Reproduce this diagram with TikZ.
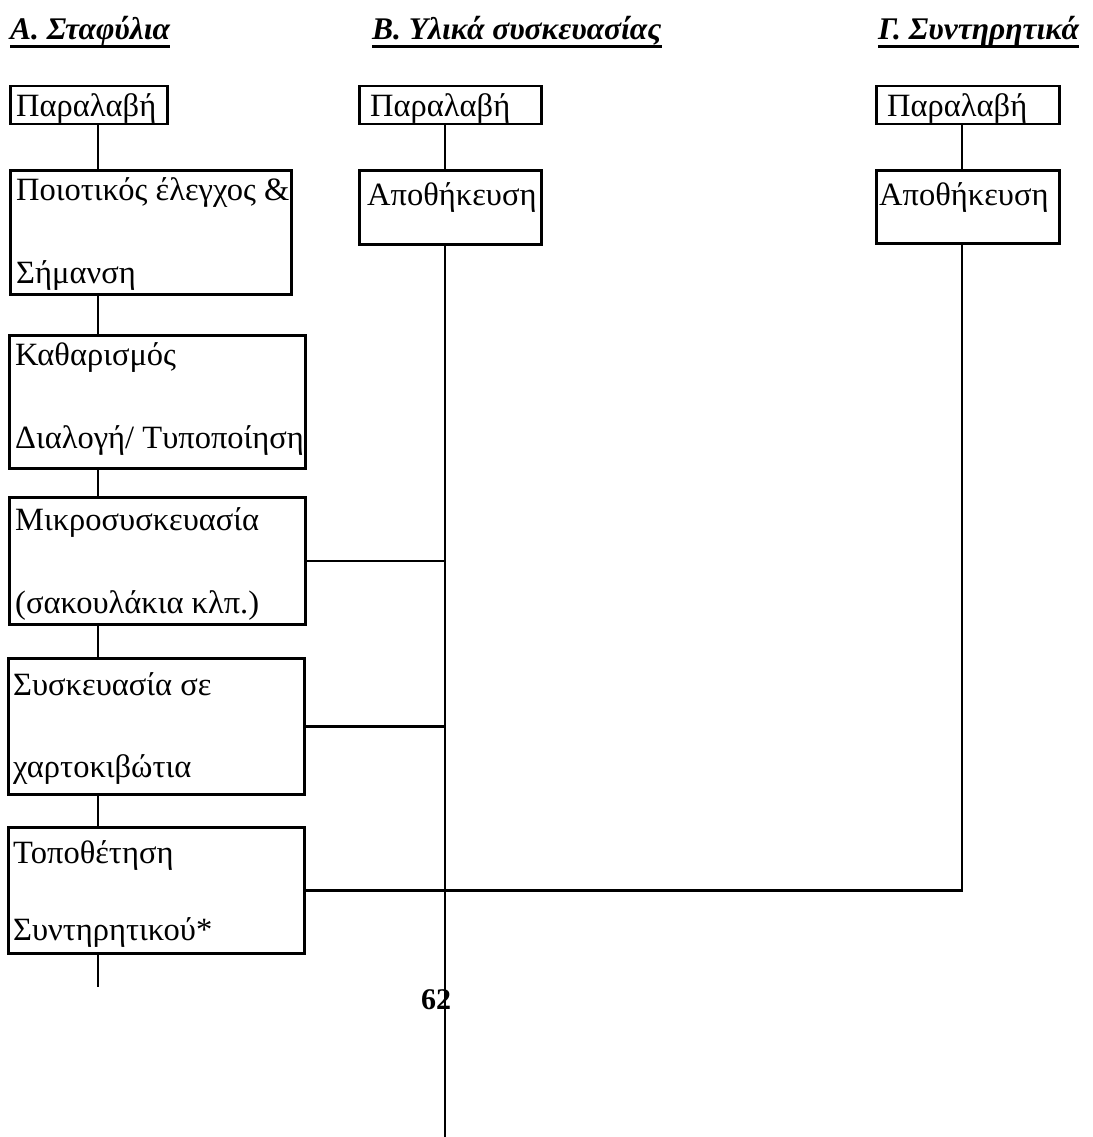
\documentclass[tikz,border=0pt]{standalone}
\usepackage{fontspec}
\setmainfont{Liberation Serif}
\begin{document}
\begin{tikzpicture}[x=1pt,y=-1pt,
  box/.style={draw, line width=2.5pt, anchor=north west, inner sep=0pt},
  txt/.style={anchor=base west, inner sep=0pt, font=\fontsize{32.5}{38}\selectfont},
  hdr/.style={anchor=base west, inner sep=0pt, font=\fontsize{31.5}{37}\selectfont\bfseries\itshape},
  conn/.style={line width=2.5pt}]
\useasboundingbox[fill=white] (0,0) rectangle (1092,1137);
% headers
\node[hdr] (hA) at (10,40) {Α. Σταφύλια\ };
\node[hdr] (hB) at (372,40) {Β. Υλικά συσκευασίας};
\node[hdr] (hC) at (878,40) {Γ. Συντηρητικά};
\foreach \h in {hA,hB,hC}
  \draw[line width=3pt] ([yshift=-7pt]\h.base west) -- ([yshift=-7pt]\h.base east);
% column A boxes
\node[box, minimum width=157pt, minimum height=38pt] (a1) at (9,85) {};
\node[box, minimum width=281pt, minimum height=124pt] (a2) at (9,169) {};
\node[box, minimum width=296pt, minimum height=133pt] (a3) at (8,334) {};
\node[box, minimum width=296pt, minimum height=127pt] (a4) at (8,496) {};
\node[box, minimum width=296pt, minimum height=136pt] (a5) at (7,657) {};
\node[box, minimum width=296pt, minimum height=126pt] (a6) at (7,826) {};
% column B, C boxes
\node[box, minimum width=182pt, minimum height=38pt] (b1) at (358,85) {};
\node[box, minimum width=182pt, minimum height=74pt] (b2) at (358,169) {};
\node[box, minimum width=183pt, minimum height=38pt] (c1) at (875,85) {};
\node[box, minimum width=183pt, minimum height=73pt] (c2) at (875,169) {};
% texts
\node[txt] (a1t) at (16,117) {Παραλαβή};
\node[txt] (a2t) at (16,200) {Ποιοτικός έλεγχος \&};
\node[txt] (a2s) at (16,283) {Σήμανση};
\node[txt] (a3t) at (15,365) {Καθαρισμός};
\node[txt] (a3s) at (15,448) {Διαλογή/ Τυποποίηση};
\node[txt] (a4t) at (15,530) {Μικροσυσκευασία};
\node[txt] (a4s) at (15,613) {(σακουλάκια κλπ.)};
\node[txt] (a5t) at (13,695) {Συσκευασία σε};
\node[txt] (a5s) at (13,777) {χαρτοκιβώτια};
\node[txt] (a6t) at (13,863) {Τοποθέτηση};
\node[txt] (a6s) at (13,940) {Συντηρητικού*};
\node[txt] (b1t) at (370,117) {Παραλαβή};
\node[txt] (b2t) at (367,205) {Αποθήκευση};
\node[txt] (c1t) at (887,117) {Παραλαβή};
\node[txt] (c2t) at (879,205) {Αποθήκευση};
% page number
\node[anchor=center, inner sep=0pt, font=\fontsize{30}{36}\selectfont\bfseries] (pg) at (436,1000) {62};
% guide coordinates
\coordinate (xa) at (98,0);
\coordinate (xb) at (445,0);
\coordinate (xc) at (962,0);
\coordinate (aend) at (98,987);
\coordinate (bend) at (445,1137);
% connectors column A
\draw[conn] (a1.south -| xa) -- (a2.north -| xa);
\draw[conn] (a2.south -| xa) -- (a3.north -| xa);
\draw[conn] (a3.south -| xa) -- (a4.north -| xa);
\draw[conn] (a4.south -| xa) -- (a5.north -| xa);
\draw[conn] (a5.south -| xa) -- (a6.north -| xa);
\draw[conn] (a6.south -| xa) -- (aend);
% column B
\draw[conn] (b1.south -| xb) -- (b2.north -| xb);
\draw[conn] (b2.south -| xb) -- (bend);
\draw[conn] (a4.east) -- (a4.east -| xb);
\draw[conn] (a5.east) -- (a5.east -| xb);
% column C
\draw[conn] (c1.south -| xc) -- (c2.north -| xc);
\draw[conn] (c2.south -| xc) -- (a6.east -| xc) -- (a6.east);
\end{tikzpicture}
\end{document}
